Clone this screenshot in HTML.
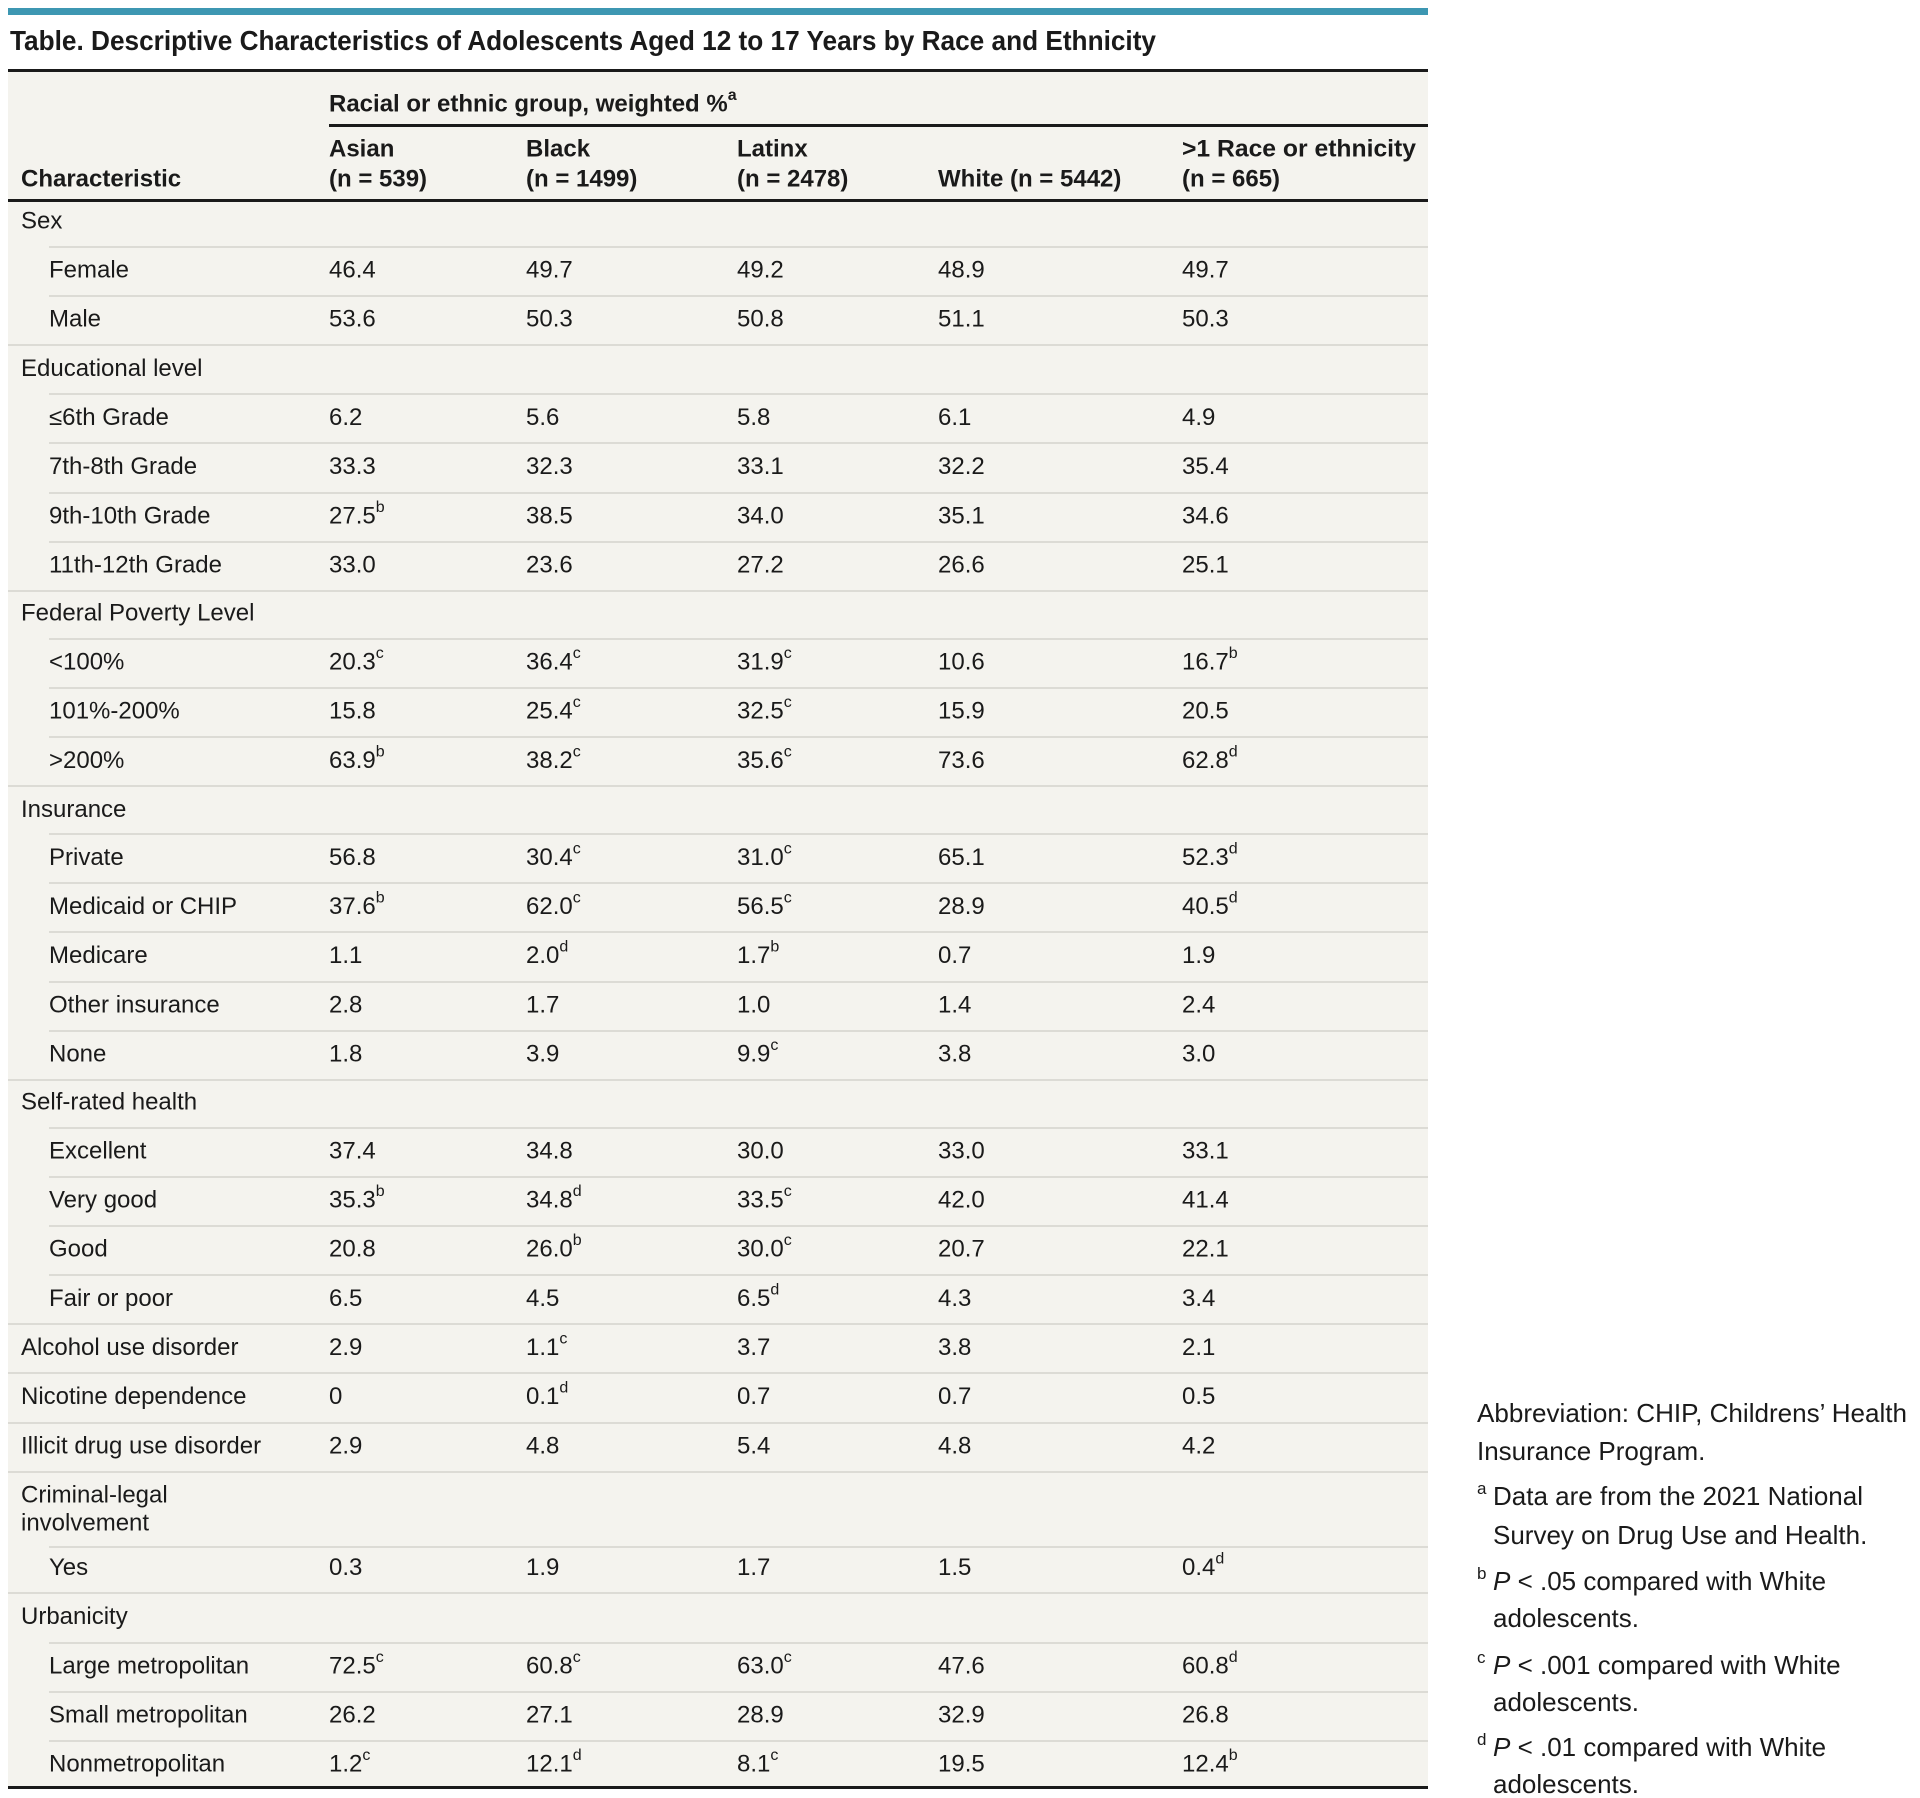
<!DOCTYPE html>
<html><head><meta charset="utf-8"><style>
html,body{margin:0;padding:0;background:#fff;}
svg{display:block;}
text{font-family:"Liberation Sans",sans-serif;fill:#1a1a1a;}
.c text{font-size:24px;}
.h{font-size:24px;font-weight:bold;}
.f text{font-size:26px;}
.s{font-size:16px;}
.f text.s{font-size:17px;}
.L{fill:#dcdbd5;}
</style></head><body>
<svg width="1920" height="1798" viewBox="0 0 1920 1798" xmlns="http://www.w3.org/2000/svg">
<rect x="8" y="8" width="1420" height="7" fill="#3d97b2"/>
<text x="10" y="50" font-size="28" font-weight="bold" textLength="1146" lengthAdjust="spacingAndGlyphs">Table. Descriptive Characteristics of Adolescents Aged 12 to 17 Years by Race and Ethnicity</text>
<rect x="8" y="70" width="1420" height="1718" fill="#f4f3ee"/>
<rect x="8" y="69" width="1420" height="3" fill="#1a1a1a"/>
<g dominant-baseline="central">
<text class="h" x="329" y="104">Racial or ethnic group, weighted %<tspan class="s" dy="-9">a</tspan></text>
<rect x="329" y="124" width="1099" height="3" fill="#1a1a1a"/>
<text class="h" x="329" y="149">Asian</text><text class="h" x="329" y="179">(n = 539)</text>
<text class="h" x="526" y="149">Black</text><text class="h" x="526" y="179">(n = 1499)</text>
<text class="h" x="737" y="149">Latinx</text><text class="h" x="737" y="179">(n = 2478)</text>
<text class="h" x="938" y="179">White (n = 5442)</text>
<text class="h" x="1182" y="149" textLength="234" lengthAdjust="spacingAndGlyphs">&gt;1 Race or ethnicity</text><text class="h" x="1182" y="179">(n = 665)</text>
<text class="h" x="21" y="179">Characteristic</text>
<rect x="8" y="199" width="1420" height="3" fill="#1a1a1a"/>
</g>

<g class="L">
<rect x="49" y="246" width="1379" height="2"/>
<rect x="49" y="295" width="1379" height="2"/>
<rect x="8" y="344" width="1420" height="2"/>
<rect x="49" y="393" width="1379" height="2"/>
<rect x="49" y="442" width="1379" height="2"/>
<rect x="49" y="492" width="1379" height="2"/>
<rect x="49" y="541" width="1379" height="2"/>
<rect x="8" y="590" width="1420" height="2"/>
<rect x="49" y="638" width="1379" height="2"/>
<rect x="49" y="687" width="1379" height="2"/>
<rect x="49" y="736" width="1379" height="2"/>
<rect x="8" y="785" width="1420" height="2"/>
<rect x="49" y="833" width="1379" height="2"/>
<rect x="49" y="882" width="1379" height="2"/>
<rect x="49" y="931" width="1379" height="2"/>
<rect x="49" y="981" width="1379" height="2"/>
<rect x="49" y="1030" width="1379" height="2"/>
<rect x="8" y="1079" width="1420" height="2"/>
<rect x="49" y="1127" width="1379" height="2"/>
<rect x="49" y="1176" width="1379" height="2"/>
<rect x="49" y="1225" width="1379" height="2"/>
<rect x="49" y="1274" width="1379" height="2"/>
<rect x="8" y="1323" width="1420" height="2"/>
<rect x="8" y="1372" width="1420" height="2"/>
<rect x="8" y="1422" width="1420" height="2"/>
<rect x="8" y="1471" width="1420" height="2"/>
<rect x="49" y="1546" width="1379" height="2"/>
<rect x="8" y="1592" width="1420" height="2"/>
<rect x="49" y="1642" width="1379" height="2"/>
<rect x="49" y="1691" width="1379" height="2"/>
<rect x="49" y="1740" width="1379" height="2"/>
</g>

<g class="c" dominant-baseline="central">
<text x="21" y="221">Sex</text>
<g transform="translate(0,270)"><text x="49">Female</text><text x="329">46.4</text><text x="526">49.7</text><text x="737">49.2</text><text x="938">48.9</text><text x="1182">49.7</text></g>
<g transform="translate(0,319)"><text x="49">Male</text><text x="329">53.6</text><text x="526">50.3</text><text x="737">50.8</text><text x="938">51.1</text><text x="1182">50.3</text></g>
<text x="21" y="368.5">Educational level</text>
<g transform="translate(0,417.5)"><text x="49">≤6th Grade</text><text x="329">6.2</text><text x="526">5.6</text><text x="737">5.8</text><text x="938">6.1</text><text x="1182">4.9</text></g>
<g transform="translate(0,466.5)"><text x="49">7th-8th Grade</text><text x="329">33.3</text><text x="526">32.3</text><text x="737">33.1</text><text x="938">32.2</text><text x="1182">35.4</text></g>
<g transform="translate(0,516)"><text x="49">9th-10th Grade</text><text x="329">27.5<tspan class="s" dy="-9">b</tspan></text><text x="526">38.5</text><text x="737">34.0</text><text x="938">35.1</text><text x="1182">34.6</text></g>
<g transform="translate(0,565)"><text x="49">11th-12th Grade</text><text x="329">33.0</text><text x="526">23.6</text><text x="737">27.2</text><text x="938">26.6</text><text x="1182">25.1</text></g>
<text x="21" y="613">Federal Poverty Level</text>
<g transform="translate(0,662)"><text x="49">&lt;100%</text><text x="329">20.3<tspan class="s" dy="-9">c</tspan></text><text x="526">36.4<tspan class="s" dy="-9">c</tspan></text><text x="737">31.9<tspan class="s" dy="-9">c</tspan></text><text x="938">10.6</text><text x="1182">16.7<tspan class="s" dy="-9">b</tspan></text></g>
<g transform="translate(0,711)"><text x="49">101%-200%</text><text x="329">15.8</text><text x="526">25.4<tspan class="s" dy="-9">c</tspan></text><text x="737">32.5<tspan class="s" dy="-9">c</tspan></text><text x="938">15.9</text><text x="1182">20.5</text></g>
<g transform="translate(0,760.5)"><text x="49">&gt;200%</text><text x="329">63.9<tspan class="s" dy="-9">b</tspan></text><text x="526">38.2<tspan class="s" dy="-9">c</tspan></text><text x="737">35.6<tspan class="s" dy="-9">c</tspan></text><text x="938">73.6</text><text x="1182">62.8<tspan class="s" dy="-9">d</tspan></text></g>
<text x="21" y="809.5">Insurance</text>
<g transform="translate(0,857.5)"><text x="49">Private</text><text x="329">56.8</text><text x="526">30.4<tspan class="s" dy="-9">c</tspan></text><text x="737">31.0<tspan class="s" dy="-9">c</tspan></text><text x="938">65.1</text><text x="1182">52.3<tspan class="s" dy="-9">d</tspan></text></g>
<g transform="translate(0,906.5)"><text x="49">Medicaid or CHIP</text><text x="329">37.6<tspan class="s" dy="-9">b</tspan></text><text x="526">62.0<tspan class="s" dy="-9">c</tspan></text><text x="737">56.5<tspan class="s" dy="-9">c</tspan></text><text x="938">28.9</text><text x="1182">40.5<tspan class="s" dy="-9">d</tspan></text></g>
<g transform="translate(0,955.5)"><text x="49">Medicare</text><text x="329">1.1</text><text x="526">2.0<tspan class="s" dy="-9">d</tspan></text><text x="737">1.7<tspan class="s" dy="-9">b</tspan></text><text x="938">0.7</text><text x="1182">1.9</text></g>
<g transform="translate(0,1005)"><text x="49">Other insurance</text><text x="329">2.8</text><text x="526">1.7</text><text x="737">1.0</text><text x="938">1.4</text><text x="1182">2.4</text></g>
<g transform="translate(0,1054)"><text x="49">None</text><text x="329">1.8</text><text x="526">3.9</text><text x="737">9.9<tspan class="s" dy="-9">c</tspan></text><text x="938">3.8</text><text x="1182">3.0</text></g>
<text x="21" y="1102">Self-rated health</text>
<g transform="translate(0,1151)"><text x="49">Excellent</text><text x="329">37.4</text><text x="526">34.8</text><text x="737">30.0</text><text x="938">33.0</text><text x="1182">33.1</text></g>
<g transform="translate(0,1200)"><text x="49">Very good</text><text x="329">35.3<tspan class="s" dy="-9">b</tspan></text><text x="526">34.8<tspan class="s" dy="-9">d</tspan></text><text x="737">33.5<tspan class="s" dy="-9">c</tspan></text><text x="938">42.0</text><text x="1182">41.4</text></g>
<g transform="translate(0,1249)"><text x="49">Good</text><text x="329">20.8</text><text x="526">26.0<tspan class="s" dy="-9">b</tspan></text><text x="737">30.0<tspan class="s" dy="-9">c</tspan></text><text x="938">20.7</text><text x="1182">22.1</text></g>
<g transform="translate(0,1298.5)"><text x="49">Fair or poor</text><text x="329">6.5</text><text x="526">4.5</text><text x="737">6.5<tspan class="s" dy="-9">d</tspan></text><text x="938">4.3</text><text x="1182">3.4</text></g>
<g transform="translate(0,1347.5)"><text x="21">Alcohol use disorder</text><text x="329">2.9</text><text x="526">1.1<tspan class="s" dy="-9">c</tspan></text><text x="737">3.7</text><text x="938">3.8</text><text x="1182">2.1</text></g>
<g transform="translate(0,1396.5)"><text x="21">Nicotine dependence</text><text x="329">0</text><text x="526">0.1<tspan class="s" dy="-9">d</tspan></text><text x="737">0.7</text><text x="938">0.7</text><text x="1182">0.5</text></g>
<g transform="translate(0,1446)"><text x="21">Illicit drug use disorder</text><text x="329">2.9</text><text x="526">4.8</text><text x="737">5.4</text><text x="938">4.8</text><text x="1182">4.2</text></g>
<text x="21" y="1495">Criminal-legal</text>
<text x="21" y="1523">involvement</text>
<g transform="translate(0,1567.5)"><text x="49">Yes</text><text x="329">0.3</text><text x="526">1.9</text><text x="737">1.7</text><text x="938">1.5</text><text x="1182">0.4<tspan class="s" dy="-9">d</tspan></text></g>
<text x="21" y="1616.5">Urbanicity</text>
<g transform="translate(0,1666)"><text x="49">Large metropolitan</text><text x="329">72.5<tspan class="s" dy="-9">c</tspan></text><text x="526">60.8<tspan class="s" dy="-9">c</tspan></text><text x="737">63.0<tspan class="s" dy="-9">c</tspan></text><text x="938">47.6</text><text x="1182">60.8<tspan class="s" dy="-9">d</tspan></text></g>
<g transform="translate(0,1715)"><text x="49">Small metropolitan</text><text x="329">26.2</text><text x="526">27.1</text><text x="737">28.9</text><text x="938">32.9</text><text x="1182">26.8</text></g>
<g transform="translate(0,1764)"><text x="49">Nonmetropolitan</text><text x="329">1.2<tspan class="s" dy="-9">c</tspan></text><text x="526">12.1<tspan class="s" dy="-9">d</tspan></text><text x="737">8.1<tspan class="s" dy="-9">c</tspan></text><text x="938">19.5</text><text x="1182">12.4<tspan class="s" dy="-9">b</tspan></text></g>
</g>

<rect x="8" y="1786" width="1420" height="3" fill="#1a1a1a"/>
<g class="f">
<text x="1477" y="1422" textLength="430" lengthAdjust="spacingAndGlyphs">Abbreviation: CHIP, Childrens’ Health</text>
<text x="1477" y="1460">Insurance Program.</text>
<text x="1477" y="1494" class="s">a</text><text x="1493" y="1505">Data are from the 2021 National</text>
<text x="1493" y="1544">Survey on Drug Use and Health.</text>
<text x="1477" y="1579" class="s">b</text><text x="1493" y="1590"><tspan font-style="italic">P</tspan> &lt; .05 compared with White</text>
<text x="1493" y="1627">adolescents.</text>
<text x="1477" y="1663" class="s">c</text><text x="1493" y="1674"><tspan font-style="italic">P</tspan> &lt; .001 compared with White</text>
<text x="1493" y="1711">adolescents.</text>
<text x="1477" y="1745" class="s">d</text><text x="1493" y="1756"><tspan font-style="italic">P</tspan> &lt; .01 compared with White</text>
<text x="1493" y="1793">adolescents.</text>
</g>
</svg>
</body></html>
